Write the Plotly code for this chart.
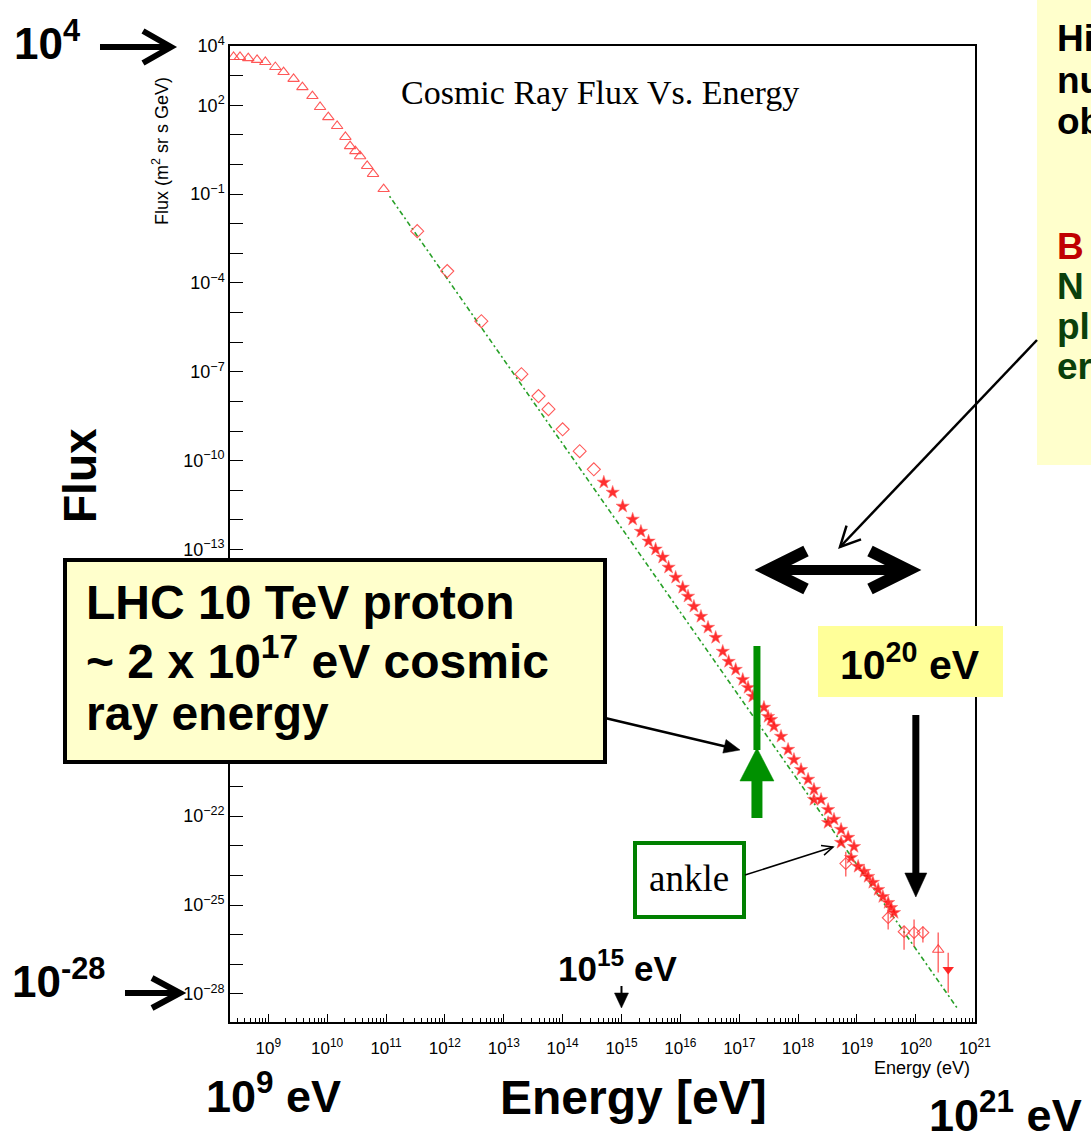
import math
import plotly.graph_objects as go

# ---------------- page / frame geometry ----------------
W, H = 1091, 1138
L, T, PW, PH = 230, 46, 745, 976          # plot frame in page pixels
X_RANGE = [8.35, 21.005]                  # log10(E / eV)
Y_RANGE = [-28.95, 4.0]                   # log10(flux)

# ---------------- data (log10 E [eV], log10 flux) ----------------
# low-energy spectrum (open triangles)
tri_logE = [8.41, 8.52, 8.66, 8.81, 8.95, 9.12, 9.26, 9.43, 9.58, 9.75,
            9.88, 10.02, 10.17, 10.31, 10.39, 10.48, 10.56, 10.68, 10.78, 10.96]
tri_logF = [3.63, 3.63, 3.59, 3.53, 3.46, 3.29, 3.12, 2.89, 2.61, 2.31,
            1.94, 1.60, 1.30, 0.93, 0.62, 0.45, 0.28, -0.05, -0.32, -0.83]

# direct measurements (open diamonds)
dia_logE = [11.53, 12.04, 12.62, 13.30, 13.59, 13.76, 14.00, 14.29, 14.53]
dia_logF = [-2.25, -3.60, -5.29, -7.08, -7.82, -8.26, -8.94, -9.68, -10.29]

# air-shower measurements (stars)
star_logE = [14.70, 14.85, 15.02, 15.19, 15.33, 15.46, 15.58, 15.70, 15.80, 15.92,
             16.04, 16.13, 16.23, 16.35, 16.47, 16.60, 16.72, 16.82, 16.94, 17.06,
             17.15, 17.23, 17.42, 17.49, 17.54, 17.59, 17.71, 17.83, 17.93, 18.05,
             18.17, 18.27, 18.27, 18.39, 18.51, 18.51, 18.61, 18.73, 18.73, 18.85,
             18.90, 18.95, 19.02, 19.12, 19.19, 19.27, 19.36, 19.44, 19.53, 19.58,
             19.63]
star_logF = [-10.73, -11.07, -11.54, -11.98, -12.39, -12.72, -12.99, -13.26, -13.60, -13.94,
             -14.28, -14.58, -14.92, -15.26, -15.63, -15.97, -16.44, -16.78, -17.05, -17.39,
             -17.66, -17.96, -18.33, -18.64, -18.74, -18.97, -19.31, -19.75, -20.09, -20.43,
             -20.76, -21.10, -21.44, -21.44, -21.78, -22.22, -22.11, -22.45, -22.89, -22.72,
             -23.40, -23.03, -23.70, -23.87, -24.04, -24.24, -24.48, -24.72, -24.92, -25.09,
             -25.26]

# highest-energy points with error bars
err_logE = [18.81, 19.53, 19.80, 19.97, 20.12]
err_logF = [-23.60, -25.43, -25.90, -25.93, -25.93]
err_hi = [-23.20, -25.05, -25.73, -25.49, -25.73]
err_lo = [-24.04, -25.83, -26.51, -26.41, -26.27]

top_logE = [20.38]
top_logF = [-26.51]
top_hi = [-25.93]
top_lo = [-27.28]

lim_logE = [20.55]
lim_logF = [-27.18]
lim_hi = [-26.61]
lim_lo = [-27.96]

# power-law guide line
fit_logE = [11.06, 20.72]
fit_logF = [-1.07, -28.53]

# axis ticks (the 10^-16 and 10^-19 labels sit under the LHC box)
x_major_exp = list(range(9, 22))
y_major_exp = list(range(-28, 5))
y_label_exp = [4, 2, -1, -4, -7, -10, -13, -22, -25, -28]

# energies called out on the figure
E_LHC = 2e17
E_GZK = 1e20
E_KNEE = 1e15


def lin(vals):
    return [10.0 ** v for v in vals]


def err_plus(f, hi):
    return [10.0 ** h - 10.0 ** v for v, h in zip(f, hi)]


def err_minus(f, lo):
    return [10.0 ** v - 10.0 ** l for v, l in zip(f, lo)]


# ---------------- helpers for overlay graphics (page pixels -> paper) ----------------
def px(xp):
    return (xp - L) / PW


def py(yp):
    return (T + PH - yp) / PH


def xpix_of(E):
    return L + (math.log10(E) - X_RANGE[0]) / (X_RANGE[1] - X_RANGE[0]) * PW


shapes = []


def rect(x0, y0, x1, y1, fill, line_color=None, lw=0):
    shapes.append(dict(type="rect", xref="paper", yref="paper",
                       x0=px(x0), x1=px(x1), y0=py(y1), y1=py(y0),
                       fillcolor=fill, layer="above",
                       line=dict(color=line_color or fill, width=lw)))


def polyline(pts, color, lw, closed=False, fill=None):
    d = "M " + " L ".join(f"{px(a):.5f},{py(b):.5f}" for a, b in pts)
    if closed:
        d += " Z"
    shapes.append(dict(type="path", xref="paper", yref="paper", path=d,
                       layer="above",
                       fillcolor=fill if fill else "rgba(0,0,0,0)",
                       line=dict(color=color, width=lw)))


def head_pts(tip, tail, length, half):
    dx, dy = tip[0] - tail[0], tip[1] - tail[1]
    n = math.hypot(dx, dy)
    ux, uy = dx / n, dy / n
    bx, by = tip[0] - ux * length, tip[1] - uy * length
    return [(bx - uy * half, by + ux * half), tip, (bx + uy * half, by - ux * half)]


def arrow(tail, tip, color, lw, length, half, filled):
    hp = head_pts(tip, tail, length, half)
    if filled:
        n = math.hypot(tip[0] - tail[0], tip[1] - tail[1])
        k = (n - length * 0.8) / n
        end = (tail[0] + (tip[0] - tail[0]) * k, tail[1] + (tip[1] - tail[1]) * k)
        polyline([tail, end], color, lw)
        polyline(hp, color, 0.5, closed=True, fill=color)
    else:
        polyline([tail, tip], color, lw)
        polyline(hp, color, lw)


# ---------------- figure ----------------
fig = go.Figure()

fig.add_trace(go.Scatter(
    x=lin(fit_logE), y=lin(fit_logF), mode="lines",
    line=dict(color="rgb(40,160,40)", width=1.6, dash="2px,3px,5px,3px"),
    hoverinfo="skip"))

fig.add_trace(go.Scatter(
    x=lin(tri_logE), y=lin(tri_logF), mode="markers",
    marker=dict(symbol="triangle-up-open", size=10, color="rgba(255,70,70,0.9)",
                line=dict(width=1.1))))

fig.add_trace(go.Scatter(
    x=lin(dia_logE), y=lin(dia_logF), mode="markers",
    marker=dict(symbol="diamond-open", size=10, color="rgba(255,70,70,0.9)",
                line=dict(width=1.1))))

fig.add_trace(go.Scatter(
    x=lin(star_logE), y=lin(star_logF), mode="markers",
    marker=dict(symbol="star", size=10, color="rgba(255,10,10,0.85)",
                line=dict(width=1, color="rgba(255,110,110,0.55)"))))

fig.add_trace(go.Scatter(
    x=lin(err_logE), y=lin(err_logF), mode="markers",
    marker=dict(symbol="diamond-open", size=9, color="rgba(255,60,60,0.85)",
                line=dict(width=1.1)),
    error_y=dict(type="data", symmetric=False, array=err_plus(err_logF, err_hi),
                 arrayminus=err_minus(err_logF, err_lo),
                 color="rgba(255,60,60,0.8)", thickness=1.4, width=0)))

fig.add_trace(go.Scatter(
    x=lin(top_logE), y=lin(top_logF), mode="markers",
    marker=dict(symbol="triangle-up-open", size=10, color="rgba(255,60,60,0.9)",
                line=dict(width=1.1)),
    error_y=dict(type="data", symmetric=False, array=err_plus(top_logF, top_hi),
                 arrayminus=err_minus(top_logF, top_lo),
                 color="rgba(255,60,60,0.8)", thickness=1.4, width=0)))

fig.add_trace(go.Scatter(
    x=lin(lim_logE), y=lin(lim_logF), mode="markers",
    marker=dict(symbol="triangle-down", size=10, color="rgba(255,30,30,0.95)"),
    error_y=dict(type="data", symmetric=False, array=err_plus(lim_logF, lim_hi),
                 arrayminus=err_minus(lim_logF, lim_lo),
                 color="rgba(255,60,60,0.8)", thickness=1.4, width=0)))

# axes
tick_font = dict(family="Liberation Sans, Arial, sans-serif", size=17, color="black")
x_minor = [m * 10.0 ** k for k in range(8, 21) for m in range(2, 10)
           if X_RANGE[0] <= math.log10(m * 10.0 ** k) <= X_RANGE[1]]

fig.update_xaxes(
    type="log", range=X_RANGE, tickmode="array",
    tickvals=[10.0 ** k for k in x_major_exp],
    ticktext=[f"10<sup>{k}</sup>" for k in x_major_exp],
    ticks="inside", ticklen=8, tickwidth=1, tickcolor="black",
    showline=True, linecolor="black", linewidth=1.5, mirror=True,
    showgrid=False, zeroline=False, tickfont=tick_font, ticklabelstandoff=10,
    minor=dict(tickmode="array", tickvals=x_minor, ticks="inside", ticklen=4,
               tickwidth=1, tickcolor="black", showgrid=False))


def ylab(k):
    if k not in y_label_exp:
        return ""
    s = str(k).replace("-", "\u2212")
    return f"10<sup>{s}</sup>"


fig.update_yaxes(
    type="log", range=Y_RANGE, tickmode="array",
    tickvals=[10.0 ** k for k in y_major_exp],
    ticktext=[ylab(k) for k in y_major_exp],
    ticks="inside", ticklen=13, tickwidth=1, tickcolor="black",
    showline=True, linecolor="black", linewidth=1.5, mirror=True,
    showgrid=False, zeroline=False, tickfont=dict(tick_font, size=18))

# ---------------- overlay boxes and arrows ----------------
rect(1037, -5, 1100, 465, "#FFFFCC")                      # right-hand note box
rect(65, 560, 605, 762, "#FFFFCC", "black", 4)            # LHC box
rect(818, 626, 1003, 697, "#FFFF99")                      # 10^20 eV box
rect(635, 843, 744, 917, "white", "#008000", 4)           # ankle box

GREEN = "#009000"
xg = xpix_of(E_LHC)
polyline([(xg, 646), (xg, 750)], GREEN, 7)
polyline([(xg, 780), (xg, 818)], GREEN, 11)
polyline([(xg - 17, 781), (xg, 748), (xg + 17, 781)], GREEN, 0.5, closed=True, fill=GREEN)

xb = xpix_of(E_GZK)
arrow((xb, 715), (xb, 897), "black", 7, 24, 11, True)

xk = xpix_of(E_KNEE)
arrow((xk, 986), (xk, 1008), "black", 2, 15, 7, True)

# axis pointer arrows at 10^4 and 10^-28
polyline([(100, 47), (168, 47)], "black", 6)
polyline([(143, 31), (171, 47), (143, 63)], "black", 6)
polyline([(125, 993), (178, 993)], "black", 6)
polyline([(152, 978), (180, 993), (152, 1008)], "black", 6)

# double-headed arrow
polyline([(770, 570), (906, 570)], "black", 10)
polyline([(806, 551), (768, 570), (806, 589)], "black", 12)
polyline([(870, 551), (908, 570), (870, 589)], "black", 12)

# thin pointer arrows
arrow((1037, 340), (840, 547), "black", 2.5, 20, 10, False)
arrow((605, 718), (740, 750), "black", 2.5, 16, 7, True)
arrow((745, 875), (833, 847), "black", 1.5, 11, 5, False)

# ---------------- text ----------------
ann = []


def text(x, y, s, size, color="black", family="Liberation Sans, Arial, sans-serif",
         xanchor="left", angle=0):
    ann.append(dict(xref="paper", yref="paper", x=px(x), y=py(y), text=s,
                    showarrow=False, xanchor=xanchor, yanchor="middle",
                    textangle=angle, font=dict(family=family, size=size, color=color)))


SERIF = "Liberation Serif, Times New Roman, serif"

text(600, 93, "Cosmic Ray Flux Vs. Energy", 34, family=SERIF, xanchor="center")
text(160, 151, "Flux (m<sup>2</sup> sr s GeV)", 18, xanchor="center", angle=-90)
text(972, 1068, "Energy (eV)", 18, xanchor="right")

text(12, 40, "<b>10<sup>4</sup></b>", 44)
text(10, 978, "<b>10<sup>-28</sup></b>", 44)
text(80, 476, "<b>Flux</b>", 46, xanchor="center", angle=-90)
text(204, 1093, "<b>10<sup>9</sup> eV</b>", 45)
text(633, 1097, "<b>Energy [eV]</b>", 48, xanchor="center")
text(927, 1112, "<b>10<sup>21</sup> eV</b>", 45)
text(617, 966, "<b>10<sup>15</sup> eV</b>", 35, xanchor="center")

text(84, 602, "<b>LHC 10 TeV proton</b>", 48)
text(84, 658, "<b>~ 2 x 10<sup>17</sup> eV cosmic</b>", 48)
text(84, 714, "<b>ray energy</b>", 48)

text(910, 662, "<b>10<sup>20</sup> eV</b>", 41, xanchor="center")
text(689, 879, "ankle", 37, family=SERIF, xanchor="center")

DARK_GREEN = "#0A400A"
text(1055, 38, "<b>Hi</b>", 37)
text(1055, 80, "<b>nu</b>", 37)
text(1055, 121, "<b>ob</b>", 37)
text(1055, 246, "<b>B</b>", 37, color="#C00000")
text(1055, 286, "<b>N</b>", 37, color=DARK_GREEN)
text(1055, 326, "<b>pl</b>", 37, color=DARK_GREEN)
text(1055, 366, "<b>er</b>", 37, color=DARK_GREEN)

fig.update_layout(
    width=W, height=H,
    margin=dict(l=L, r=W - L - PW, t=T, b=H - T - PH, pad=0),
    paper_bgcolor="white", plot_bgcolor="white",
    showlegend=False, shapes=shapes, annotations=ann)

fig.write_html("out.html")
